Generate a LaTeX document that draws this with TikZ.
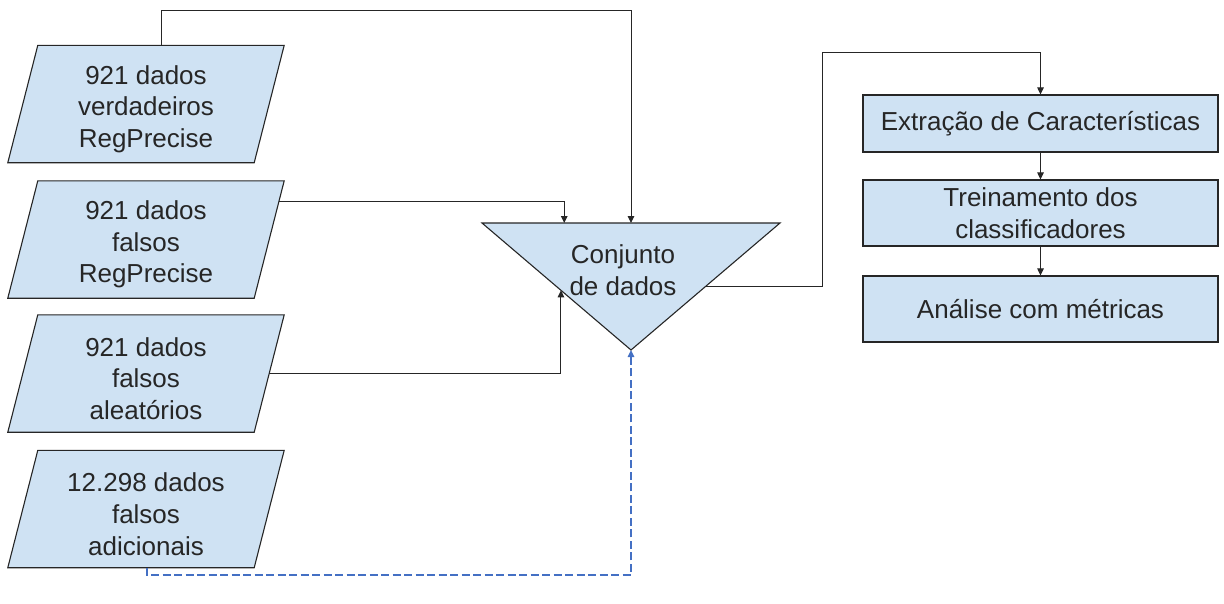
\documentclass[tikz,border=0pt]{standalone}
\usepackage{fontspec}
\setmainfont{Liberation Sans}
\usetikzlibrary{arrows.meta,calc,backgrounds}

\definecolor{boxfill}{HTML}{CFE2F3}
\definecolor{edge}{HTML}{262626}
\definecolor{dashblue}{HTML}{4470C4}

\tikzset{
  every node/.style={font=\fontsize{26}{31.7}\selectfont, text=black!85},
  iobox/.style={minimum width=246, minimum height=117, inner sep=0, align=center},
  procbox/.style={draw=edge, fill=boxfill, line width=1.1pt, minimum width=355,
                  inner sep=0, align=center},
  flow/.style={draw=edge, line width=1pt, -{Triangle[length=7pt,width=6.5pt]}},
  extra/.style={draw=dashblue, line width=1.3pt, dash pattern=on 8pt off 3.5pt,
                -{Triangle[length=7pt,width=6.5pt]}},
  slanted/.style={draw=edge, fill=boxfill, line width=1.1pt},
}

% parallelogram behind an input node: slant of 15 at top and bottom,
% frame raised by 5 so the text sits slightly low in it
\newcommand\ioframe[1]{%
  \begin{scope}[on background layer]
    \path[slanted] ($(#1.north west)+(15,-5)$) -- ($(#1.north east)+(15,-5)$)
      -- ($(#1.south east)+(-15,-5)$) -- ($(#1.south west)+(-15,-5)$) -- cycle;
  \end{scope}}

\begin{document}
\begin{tikzpicture}[x=1pt,y=-1pt]
\useasboundingbox (0,0) rectangle (1224,603);

% input data sets
\node[iobox] (p1) at (146,109) {921 dados\\verdadeiros\\RegPrecise};
\node[iobox] (p2) at (146,244.5) {921 dados\\falsos\\RegPrecise};
\node[iobox] (p3) at (146,378.5) {921 dados\\falsos\\aleatórios};
\node[iobox] (p4) at (146,514) {12.298 dados\\falsos\\adicionais};
\ioframe{p1}\ioframe{p2}\ioframe{p3}\ioframe{p4}

% merging triangle
\coordinate (tl) at (482,223);
\coordinate (tr) at (780,223);
\coordinate (tb) at (631,350);
\path[slanted] (tl) -- (tr) -- (tb) -- cycle;
\node (conj) at (623,270) [align=center] {Conjunto\\de dados};

% processing steps
\node[procbox, minimum height=57] (b1) at (1040.5,123.5) {Extração de Características};
\node[procbox, minimum height=66] (b2) at (1040.5,213) {Treinamento dos\\classificadores};
\node[procbox, minimum height=66] (b3) at (1040.5,309) {Análise com métricas};

% connectors into the triangle
\draw[flow] ($(p1.north)+(15,-5)$) |- (631,10) -- ($(tl)!0.5!(tr)$);
\draw[flow] ($(p2.north east)+(10,16)$) -| ($(tl)!0.276!(tr)$);
\draw[flow] ($(p3.east)+(0,-5)$) -| ($(tl)!0.53!(tb)$);
\draw[extra] ($(p4.south)+(1,-5)$) |- (631,575) -- (tb);

% triangle to the processing chain
\draw[flow] ($(tr)!0.5!(tb)$) -| (822,52) -| (b1.north);
\draw[flow] (b1) -- (b2);
\draw[flow] (b2) -- (b3);
\end{tikzpicture}
\end{document}
